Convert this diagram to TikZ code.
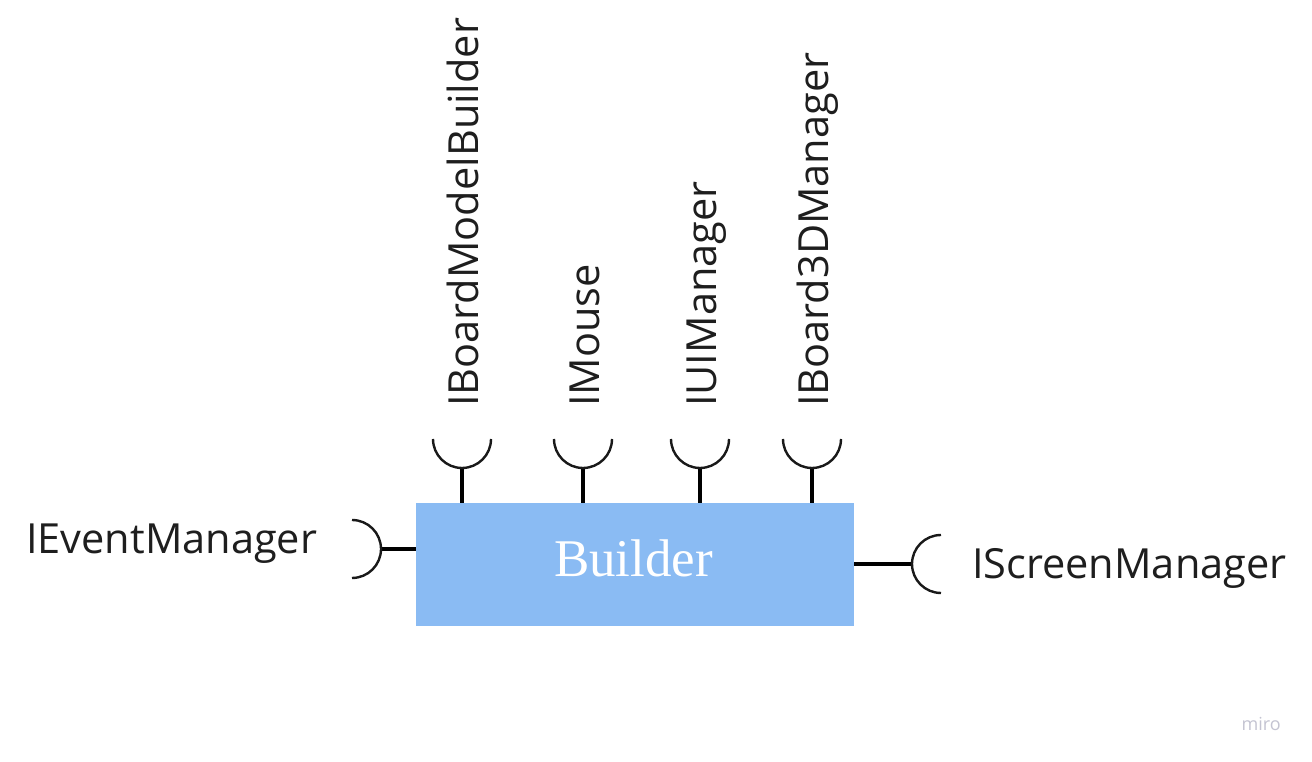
\documentclass[tikz,border=0pt]{standalone}
\usepackage{fontspec}
\setmainfont{Open Sans}
\newfontfamily\serifb{Liberation Serif}
\definecolor{boxblue}{RGB}{138,187,243}
\definecolor{inktext}{RGB}{30,30,30}
\definecolor{mirogray}{RGB}{196,196,210}
\begin{document}
\begin{tikzpicture}[x=1pt,y=1pt,
  lbl/.style={inner sep=0pt,text=inktext,font=\fontsize{41.5}{45}\selectfont},
  vlbl/.style={lbl,rotate=90,anchor=base west},
  stem/.style={line width=3.2pt,draw=black},
  cup/.style={line width=2.4pt,draw=black!90}]
\useasboundingbox (0,0) rectangle (1312,762);
\fill[white] (0,0) rectangle (1312,762);

\node[fill=boxblue,minimum width=438,minimum height=123,inner sep=0pt] (box) at (635,197.5) {};
\node[inner sep=0pt,anchor=base,text=white,font=\serifb\fontsize{53}{57}\selectfont] (title) at (633.5,185) {Builder};

% top sockets
\foreach \n/\x/\t in {a/462/IBoardModelBuilder,b/583/IMouse,c/700/IUIManager,d/812/IBoard3DManager}{
  \coordinate (s\n) at (\x,294);
  \draw[stem] (box.north -| s\n) -- (s\n);
  \draw[cup] (s\n) ++(-29,29) arc[start angle=180,end angle=360,radius=29];
  \node[vlbl] (l\n) at (\x+16,355) {\t};
}

% left socket
\coordinate (sl) at (381,213);
\draw[stem] (box.west |- sl) -- (sl);
\draw[cup] (sl) ++(-29,29) arc[start angle=90,end angle=-90,radius=29];
\node[lbl,anchor=base west] (ll) at (26,208) {IEventManager};

% right socket
\coordinate (sr) at (912,198);
\draw[stem] (box.east |- sr) -- (sr);
\draw[cup] (sr) ++(29,29) arc[start angle=90,end angle=270,radius=29];
\node[lbl,anchor=base west] (lr) at (972,183) {IScreenManager};

\node[inner sep=0pt,anchor=base east,text=mirogray,font=\fontsize{18}{20}\selectfont] (miro) at (1281,31) {miro};
\end{tikzpicture}
\end{document}
